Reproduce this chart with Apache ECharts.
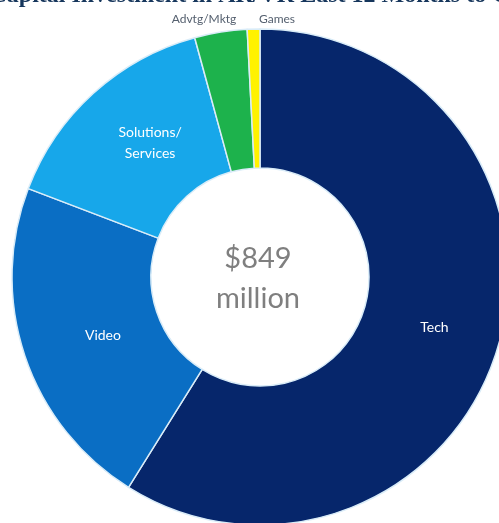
<!DOCTYPE html>
<html>
<head>
<meta charset="utf-8">
<script src="https://cdn.jsdelivr.net/npm/echarts@6/dist/echarts.min.js"></script>
<style>
  html, body { margin: 0; padding: 0; background: #ffffff; }
  #chart { width: 499px; height: 523px; }
</style>
</head>
<body>
<div id="chart"></div>
<script>
// Data (US$ millions), clockwise from top
const categories = ['Tech', 'Video', 'Solutions/\nServices', 'Advtg/Mktg', 'Games'];
const values = [500, 186, 127, 29, 7];
const colors = ['#06266b', '#0a6ec4', '#17a7ea', '#1db24c', '#fff200'];
const titleText = 'Large Capital Investment in AR/VR Last 12 Months to Q1 2016';
const centerText = '$849\nmillion';
const watermark = '\u00a9 2016 Digi-Capital';

const chart = echarts.init(document.getElementById('chart'), null, { renderer: 'canvas' });

const data = categories.map((name, i) => {
  const outsideLabel = i >= 3;
  return {
    name: name,
    value: values[i],
    itemStyle: { color: colors[i] },
    label: outsideLabel ? {
      position: 'outside',
      color: '#55606f',
      fontSize: 12
    } : {
      position: 'inside',
      color: '#ffffff',
      fontSize: 14,
      lineHeight: 21
    },
    labelLine: { show: false, length: 4, length2: 0 }
  };
});

chart.setOption({
  animation: false,
  backgroundColor: '#ffffff',
  title: {
    text: titleText,
    left: 'center',
    top: -21,
    textStyle: {
      fontFamily: 'Liberation Serif',
      fontWeight: 'bold',
      fontSize: 24,
      color: '#16365c'
    }
  },
  graphic: [
    {
      type: 'text',
      x: 258,
      y: 279,
      style: {
        text: centerText,
        align: 'center',
        verticalAlign: 'middle',
        fontFamily: 'Lato',
        fontSize: 29,
        lineHeight: 40,
        fill: '#7f7f7f'
      }
    },
    {
      type: 'text',
      x: 162,
      y: 447,
      rotation: 58 * Math.PI / 180,
      style: {
        text: watermark,
        align: 'center',
        verticalAlign: 'middle',
        fontFamily: 'Liberation Sans',
        fontSize: 6,
        fill: '#8c9bbd'
      }
    }
  ],
  series: [{
    type: 'pie',
    center: [260, 277],
    radius: [109, 248],
    startAngle: 90,
    clockwise: true,
    avoidLabelOverlap: false,
    itemStyle: { borderColor: '#d9ecf8', borderWidth: 1.5 },
    label: { fontFamily: 'Lato', formatter: '{b}' },
    labelLayout: function (params) {
      if (params.dataIndex === 1) return { dx: 15, dy: 1 };
      if (params.dataIndex === 2) return { dx: 12, dy: 0 };
      if (params.dataIndex === 3) return { x: 204, y: 19, align: 'center', verticalAlign: 'middle' };
      if (params.dataIndex === 4) return { x: 277, y: 19, align: 'center', verticalAlign: 'middle' };
      return {};
    },
    emphasis: { disabled: true },
    data: data
  }]
});
</script>
</body>
</html>
